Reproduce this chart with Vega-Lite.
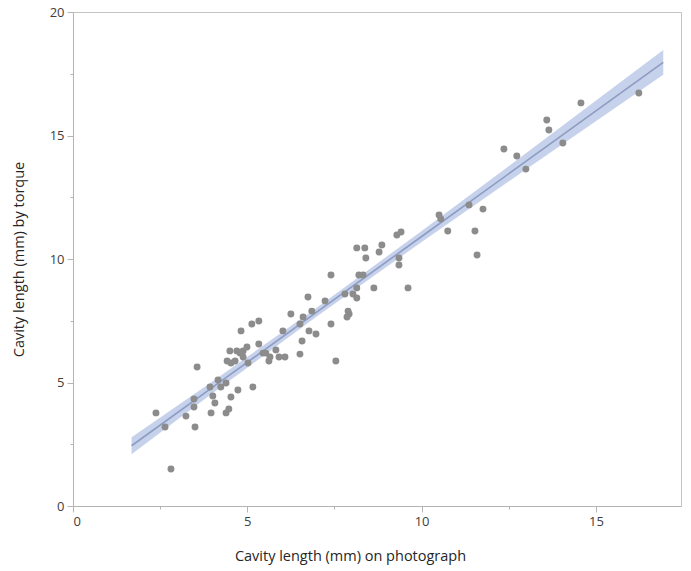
{
  "$schema": "https://vega.github.io/schema/vega-lite/v6.json",
  "width": 608,
  "height": 494,
  "autosize": {"type": "none"},
  "padding": {"left": 73, "top": 12, "right": 10, "bottom": 65},
  "background": "white",
  "config": {
    "view": {"stroke": "#c4c4c4", "strokeWidth": 1},
    "font": "Open Sans"
  },
  "datasets": {
    "points": [
      {"photo": 2.38, "torque": 3.77}, {"photo": 2.64, "torque": 3.2}, {"photo": 2.81, "torque": 1.5},
      {"photo": 3.24, "torque": 3.64}, {"photo": 3.47, "torque": 4.33}, {"photo": 3.47, "torque": 4.01},
      {"photo": 3.5, "torque": 3.2}, {"photo": 3.93, "torque": 4.82}, {"photo": 3.96, "torque": 3.77},
      {"photo": 4.01, "torque": 4.45}, {"photo": 4.07, "torque": 4.17}, {"photo": 4.16, "torque": 5.1},
      {"photo": 4.24, "torque": 4.82}, {"photo": 4.39, "torque": 4.98}, {"photo": 4.39, "torque": 3.77},
      {"photo": 4.47, "torque": 3.93}, {"photo": 4.53, "torque": 4.41}, {"photo": 4.73, "torque": 4.7},
      {"photo": 5.16, "torque": 4.82}, {"photo": 3.56, "torque": 5.63}, {"photo": 4.5, "torque": 6.28},
      {"photo": 4.7, "torque": 6.28}, {"photo": 4.79, "torque": 6.19}, {"photo": 4.88, "torque": 6.28},
      {"photo": 4.99, "torque": 6.44}, {"photo": 4.42, "torque": 5.87}, {"photo": 4.53, "torque": 5.79},
      {"photo": 4.65, "torque": 5.87}, {"photo": 4.88, "torque": 6.03}, {"photo": 5.02, "torque": 5.79},
      {"photo": 4.82, "torque": 7.09}, {"photo": 5.13, "torque": 7.37}, {"photo": 5.33, "torque": 7.49},
      {"photo": 5.33, "torque": 6.56}, {"photo": 5.45, "torque": 6.19}, {"photo": 5.53, "torque": 6.19},
      {"photo": 5.82, "torque": 6.32}, {"photo": 5.65, "torque": 6.03}, {"photo": 5.62, "torque": 5.87},
      {"photo": 5.91, "torque": 6.03}, {"photo": 6.08, "torque": 6.03}, {"photo": 6.02, "torque": 7.09},
      {"photo": 6.25, "torque": 7.77}, {"photo": 6.51, "torque": 7.37}, {"photo": 6.57, "torque": 6.68},
      {"photo": 6.51, "torque": 6.15}, {"photo": 6.6, "torque": 7.65}, {"photo": 6.74, "torque": 8.46},
      {"photo": 6.77, "torque": 7.09}, {"photo": 6.85, "torque": 7.89}, {"photo": 6.97, "torque": 6.96},
      {"photo": 8.14, "torque": 10.45}, {"photo": 8.37, "torque": 10.45}, {"photo": 8.86, "torque": 10.57},
      {"photo": 8.78, "torque": 10.28}, {"photo": 9.29, "torque": 10.97}, {"photo": 9.41, "torque": 11.09},
      {"photo": 8.4, "torque": 10.04}, {"photo": 9.35, "torque": 10.04}, {"photo": 9.35, "torque": 9.76},
      {"photo": 7.4, "torque": 9.35}, {"photo": 8.2, "torque": 9.35}, {"photo": 8.32, "torque": 9.35},
      {"photo": 9.61, "torque": 8.83}, {"photo": 8.63, "torque": 8.83}, {"photo": 8.14, "torque": 8.83},
      {"photo": 7.8, "torque": 8.58}, {"photo": 8.03, "torque": 8.58}, {"photo": 8.14, "torque": 8.42},
      {"photo": 7.23, "torque": 8.3}, {"photo": 7.89, "torque": 7.89}, {"photo": 7.92, "torque": 7.77},
      {"photo": 7.86, "torque": 7.65}, {"photo": 7.4, "torque": 7.37}, {"photo": 7.54, "torque": 5.87},
      {"photo": 12.36, "torque": 14.45}, {"photo": 12.73, "torque": 14.17}, {"photo": 12.99, "torque": 13.64},
      {"photo": 11.36, "torque": 12.19}, {"photo": 11.76, "torque": 12.02}, {"photo": 10.5, "torque": 11.78},
      {"photo": 10.55, "torque": 11.62}, {"photo": 10.75, "torque": 11.13}, {"photo": 11.53, "torque": 11.13},
      {"photo": 11.59, "torque": 10.16}, {"photo": 14.57, "torque": 16.32}, {"photo": 13.59, "torque": 15.63},
      {"photo": 13.65, "torque": 15.22}, {"photo": 14.05, "torque": 14.7}, {"photo": 16.23, "torque": 16.72}
    ],
    "band": [
      {"photo": 1.68, "fit": 2.44, "lo": 2.1, "hi": 2.78},
      {"photo": 4.0, "fit": 4.8, "lo": 4.56, "hi": 5.04},
      {"photo": 7.0, "fit": 7.86, "lo": 7.68, "hi": 8.04},
      {"photo": 10.0, "fit": 10.91, "lo": 10.69, "hi": 11.13},
      {"photo": 13.0, "fit": 13.96, "lo": 13.63, "hi": 14.29},
      {"photo": 16.93, "fit": 17.96, "lo": 17.46, "hi": 18.46}
    ]
  },
  "layer": [
    {
      "data": {"name": "band"},
      "mark": {"type": "area", "color": "#c0cce9", "opacity": 0.9},
      "encoding": {
        "x": {"field": "photo", "type": "quantitative"},
        "y": {"field": "lo", "type": "quantitative"},
        "y2": {"field": "hi"}
      }
    },
    {
      "data": {"name": "band"},
      "mark": {"type": "line", "color": "#8d9cc2", "strokeWidth": 1.6},
      "encoding": {
        "x": {"field": "photo", "type": "quantitative"},
        "y": {"field": "fit", "type": "quantitative"}
      }
    },
    {
      "data": {"name": "points"},
      "mark": {"type": "circle", "color": "#8c8c8c", "opacity": 1, "size": 48},
      "encoding": {
        "x": {
          "field": "photo", "type": "quantitative",
          "scale": {"domain": [0, 17.44], "nice": false},
          "axis": {
            "title": "Cavity length (mm) on photograph",
            "values": [0, 2.5, 5, 7.5, 10, 12.5, 15],
            "labelExpr": "datum.value % 5 === 0 ? datum.label : ''",
            "grid": false,
            "domainColor": "#b4b4b4",
            "tickColor": "#b4b4b4",
            "tickSize": {"condition": {"test": "datum.value % 5 === 0", "value": 6}, "value": 3},
            "labelFont": "Open Sans",
            "labelFontSize": 13,
            "labelColor": "#404040",
            "labelPadding": 3,
            "titleFont": "Open Sans",
            "titleFontSize": 14.5,
            "titleFontWeight": "normal",
            "titleColor": "#262626",
            "titleX": 277,
            "titleY": 50,
            "titleAlign": "center",
            "titleBaseline": "middle"
          }
        },
        "y": {
          "field": "torque", "type": "quantitative",
          "scale": {"domain": [0, 20], "nice": false},
          "axis": {
            "title": "Cavity length (mm) by torque",
            "values": [0, 2.5, 5, 7.5, 10, 12.5, 15, 17.5, 20],
            "labelExpr": "datum.value % 5 === 0 ? datum.label : ''",
            "grid": false,
            "domainColor": "#b4b4b4",
            "tickColor": "#b4b4b4",
            "tickSize": {"condition": {"test": "datum.value % 5 === 0", "value": 6}, "value": 3},
            "labelFont": "Open Sans",
            "labelFontSize": 13,
            "labelColor": "#404040",
            "labelPadding": 3,
            "titleFont": "Open Sans",
            "titleFontSize": 14.5,
            "titleFontWeight": "normal",
            "titleColor": "#262626",
            "titlePadding": 23
          }
        }
      }
    },
    {
      "mark": {"type": "text", "align": "left", "baseline": "middle", "font": "Open Sans", "fontSize": 12, "color": "#595959"},
      "encoding": {
        "x": {"datum": 0.2, "type": "quantitative"},
        "y": {"datum": 19.4, "type": "quantitative"},
        "text": {"value": "R²: 0,932"}
      }
    }
  ]
}
